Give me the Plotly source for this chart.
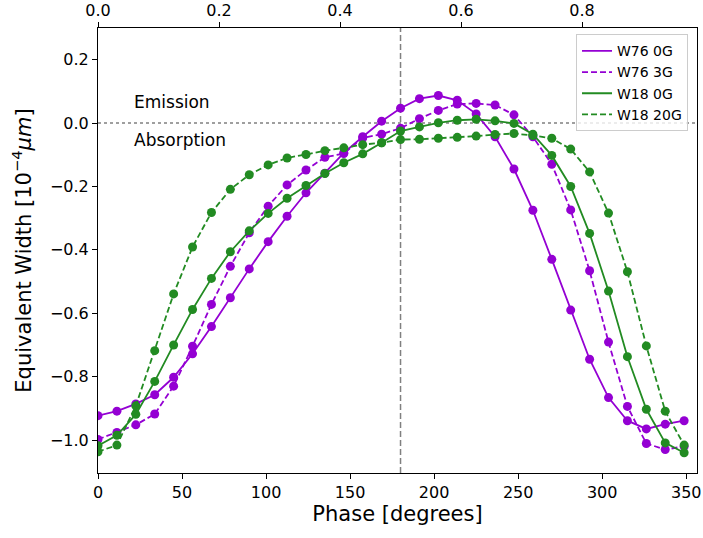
import plotly.graph_objects as go

phase = [0, 11.25, 22.5, 33.75, 45, 56.25, 67.5, 78.75, 90, 101.25, 112.5, 123.75,
         135, 146.25, 157.5, 168.75, 180, 191.25, 202.5, 213.75, 225, 236.25, 247.5,
         258.75, 270, 281.25, 292.5, 303.75, 315, 326.25, 337.5, 348.75]

w76_0g = [-0.923, -0.909, -0.886, -0.857, -0.802, -0.728, -0.642, -0.551, -0.460, -0.374,
          -0.294, -0.220, -0.158, -0.094, -0.043, 0.006, 0.047, 0.077, 0.087, 0.072,
          0.029, -0.043, -0.145, -0.275, -0.430, -0.590, -0.745, -0.866, -0.939, -0.965,
          -0.950, -0.939]
w76_3g = [-0.998, -0.976, -0.952, -0.918, -0.830, -0.704, -0.572, -0.452, -0.346, -0.262,
          -0.195, -0.148, -0.108, -0.096, -0.047, -0.035, -0.016, 0.014, 0.040, 0.060,
          0.062, 0.057, 0.026, -0.043, -0.130, -0.274, -0.466, -0.691, -0.894, -1.011,
          -1.030, -1.020]
w18_0g = [-1.018, -0.985, -0.919, -0.815, -0.700, -0.588, -0.490, -0.406, -0.340, -0.285,
          -0.237, -0.197, -0.159, -0.125, -0.097, -0.062, -0.025, -0.012, 0.001, 0.009,
          0.012, 0.007, -0.001, -0.035, -0.102, -0.200, -0.348, -0.530, -0.737, -0.903,
          -1.009, -1.040]
w18_20g = [-1.037, -1.016, -0.892, -0.718, -0.539, -0.391, -0.282, -0.209, -0.163, -0.132,
           -0.110, -0.099, -0.087, -0.078, -0.068, -0.062, -0.052, -0.051, -0.048, -0.045,
           -0.041, -0.036, -0.033, -0.039, -0.048, -0.082, -0.154, -0.284, -0.469, -0.703,
           -0.909, -1.016]

series = [
    ("W76 0G", w76_0g, "#9400D3", "solid"),
    ("W76 3G", w76_3g, "#9400D3", "6px,3px"),
    ("W18 0G", w18_0g, "#228B22", "solid"),
    ("W18 20G", w18_20g, "#228B22", "6px,3px"),
]

top_ticks = [0.0, 0.2, 0.4, 0.6, 0.8]
bottom_ticks = [0, 50, 100, 150, 200, 250, 300, 350]
y_ticks = [-1.0, -0.8, -0.6, -0.4, -0.2, 0.0, 0.2]

FONT = "DejaVu Sans"
fig = go.Figure()

for name, vals, color, dash in series:
    fig.add_trace(go.Scatter(
        x=phase, y=vals, mode="lines+markers", name=name, showlegend=False,
        line=dict(color=color, width=1.8, dash=dash),
        marker=dict(color=color, size=9, symbol="circle"),
    ))
for name, vals, color, dash in series:
    fig.add_trace(go.Scatter(
        x=[None], y=[None], mode="lines", name=name, showlegend=True,
        line=dict(color=color, width=1.8, dash=dash),
    ))

# invisible trace to activate the top axis
fig.add_trace(go.Scatter(x=[0, 0.99], y=[0, 0], xaxis="x2", mode="lines",
                         line=dict(width=0), showlegend=False, hoverinfo="skip"))

fig.add_shape(type="line", xref="paper", yref="y", x0=0, x1=1, y0=0, y1=0,
              line=dict(color="#808080", width=1.5, dash="dot"), layer="below")
fig.add_shape(type="line", xref="x", yref="paper", x0=180, x1=180, y0=0, y1=1,
              line=dict(color="#808080", width=1.5, dash="6px,3px"), layer="below")

fig.add_annotation(x=20.5, y=0.068, xref="x", yref="y", text="Emission",
                   showarrow=False, xanchor="left", yanchor="middle",
                   font=dict(family=FONT, size=17, color="black"))
fig.add_annotation(x=20.0, y=-0.052, xref="x", yref="y", text="Absorption",
                   showarrow=False, xanchor="left", yanchor="middle",
                   font=dict(family=FONT, size=17, color="black"))

axis_common = dict(showline=True, linecolor="black", linewidth=1, ticks="outside",
                   ticklen=5, tickwidth=1, tickcolor="black", showgrid=False,
                   zeroline=False, automargin=False,
                   tickfont=dict(family=FONT, size=16, color="black"))

fig.update_layout(
    width=703, height=538,
    margin=dict(l=98, r=6, t=28, b=65),
    paper_bgcolor="white", plot_bgcolor="white",
    font=dict(family=FONT, color="black"),
    xaxis=dict(range=[0, 356.4], tickvals=bottom_ticks,
               title=dict(text="Phase [degrees]", font=dict(family=FONT, size=21), standoff=4),
               **axis_common),
    xaxis2=dict(range=[0, 0.99], overlaying="x", side="top", tickvals=top_ticks,
                tickformat=".1f", **axis_common),
    yaxis=dict(range=[-1.104, 0.3], tickvals=y_ticks, tickformat=".1f", mirror=True,
               title=dict(text="Equivalent Width [10<sup>−4</sup><i>μm</i>]",
                          font=dict(family=FONT, size=21), standoff=12),
               **axis_common),
    legend=dict(x=0.985, y=0.986, xanchor="right", yanchor="top",
                bgcolor="rgba(255,255,255,0.8)", bordercolor="#cccccc", borderwidth=1,
                font=dict(family=FONT, size=14, color="black"), tracegroupgap=0,
                itemwidth=30),
    showlegend=True,
)

fig.write_html("out.html", config={"displayModeBar": False},
               post_script="document.body.style.margin='0';document.body.style.overflow='hidden';")
